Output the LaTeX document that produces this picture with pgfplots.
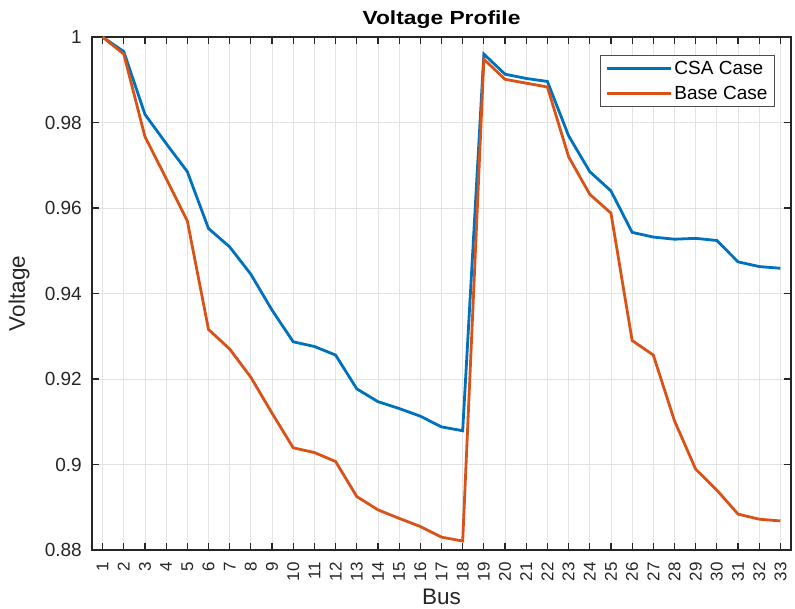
\documentclass[border=0pt]{standalone}
\usepackage{fontspec}
\setmainfont{Liberation Sans}
\usepackage{pgfplots}
\pgfplotsset{compat=1.18}
\definecolor{mblue}{RGB}{0,114,189}
\definecolor{morange}{RGB}{217,83,25}
\definecolor{axc}{RGB}{38,38,38}
\begin{document}
\begin{tikzpicture}
\begin{axis}[
  scale only axis,
  width=699pt, height=513pt,
  xmin=0.5, xmax=33.5, ymin=0.88, ymax=1,
  xtick={1,...,33},
  ytick={0.88,0.9,0.92,0.94,0.96,0.98,1},
  yticklabels={0.88,0.9,0.92,0.94,0.96,0.98,1},
  /pgf/number format/assume math mode=true,
  tick align=inside,
  major tick length=7pt,
  xtick pos=both, ytick pos=both,
  every tick/.style={axc, line width=1.2pt},
  axis line style={axc, line width=1.4pt},
  grid=major,
  major grid style={gray!22, line width=0.9pt},
  xticklabel style={rotate=90, anchor=east, inner sep=0pt, text=axc, font=\fontsize{17}{19}\selectfont},
  xticklabel shift=12pt,
  yticklabel style={anchor=east, inner sep=0pt, text=axc, font=\fontsize{19}{22}\selectfont},
  yticklabel shift=10pt,
  xlabel={Bus},
  ylabel={Voltage},
  xlabel style={at={(axis description cs:0.5,-0.0916)}, anchor=center, inner sep=0pt, text=axc, font=\fontsize{22.5}{25}\selectfont},
  ylabel style={at={(axis description cs:-0.1045,0.5)}, anchor=center, inner sep=0pt, text=axc, font=\fontsize{22.5}{25}\selectfont},
  title={Voltage Profile},
  title style={at={(axis description cs:0.5,1.033)}, anchor=center, yshift=-6pt, inner sep=0pt, xscale=1.2, font=\bfseries\fontsize{19}{22}\selectfont},
  legend style={at={(axis description cs:0.977,0.965)}, anchor=north east,
    draw=gray!60!black, line width=1pt, fill=white,
    font=\fontsize{19}{22}\selectfont, inner xsep=5pt, inner ysep=4pt,
    row sep=6pt, cells={anchor=west}},
  legend image code/.code={\draw[#1] (0pt,0pt) -- (64pt,0pt);},
]
\addplot[mblue, line width=2.8pt] coordinates {
(1,1.0000) (2,0.9966) (3,0.9819) (4,0.9751) (5,0.9685) (6,0.9552) (7,0.9509) (8,0.9445)
(9,0.9361) (10,0.9287) (11,0.9276) (12,0.9256) (13,0.9177) (14,0.9147) (15,0.9131)
(16,0.9113) (17,0.9088) (18,0.9079) (19,0.9960) (20,0.9913) (21,0.9903) (22,0.9896)
(23,0.9769) (24,0.9685) (25,0.9640) (26,0.9543) (27,0.9532) (28,0.9527) (29,0.9529)
(30,0.9524) (31,0.9474) (32,0.9463) (33,0.9459)
};
\addlegendentry{CSA Case}
\addplot[morange, line width=2.8pt] coordinates {
(1,1.0000) (2,0.9960) (3,0.9767) (4,0.9669) (5,0.9570) (6,0.9316) (7,0.9270) (8,0.9204)
(9,0.9120) (10,0.9039) (11,0.9028) (12,0.9007) (13,0.8925) (14,0.8894) (15,0.8874)
(16,0.8855) (17,0.8830) (18,0.8821) (19,0.9948) (20,0.9901) (21,0.9892) (22,0.9883)
(23,0.9720) (24,0.9632) (25,0.9588) (26,0.9290) (27,0.9256) (28,0.9102) (29,0.8989)
(30,0.8940) (31,0.8884) (32,0.8872) (33,0.8868)
};
\addlegendentry{Base Case}
\end{axis}
\pgfresetboundingbox
\path (-92pt,-58pt) rectangle (703pt,550pt);
\end{tikzpicture}
\end{document}
